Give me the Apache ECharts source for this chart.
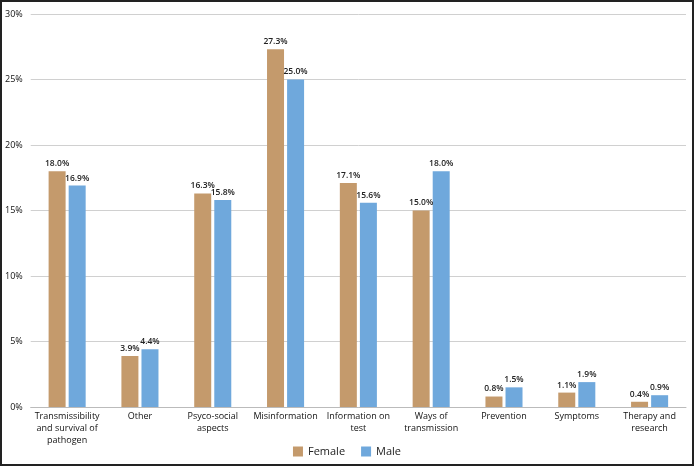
<!DOCTYPE html>
<html><head><meta charset="utf-8">
<script src="https://cdn.jsdelivr.net/npm/echarts@6/dist/echarts.min.js"></script>
<style>
html,body{margin:0;padding:0;background:#fff;}
#wrap{width:694px;height:466px;box-sizing:border-box;border:2px solid #222;}
#c{width:690px;height:462px;}
</style></head>
<body><div id="wrap"><div id="c"></div></div>
<script>
const categories = ["Transmissibility\nand survival of\npathogen","Other","Psyco-social\naspects","Misinformation","Information on\ntest","Ways of\ntransmission","Prevention","Symptoms","Therapy and\nresearch"];
const female = [18.0,3.9,16.3,27.3,17.1,15.0,0.8,1.1,0.4];
const male = [16.9,4.4,15.8,25.0,15.6,18.0,1.5,1.9,0.9];
const yTicks = [0,5,10,15,20,25,30];

const font = '"Open Sans", "Noto Sans", sans-serif';
const chart = echarts.init(document.getElementById('c'));
const lbl = {show:true,position:'top',distance:3,fontSize:8.5,fontWeight:600,color:'#222',fontFamily:font,formatter:p=>p.value.toFixed(1)+'%'};
chart.setOption({
  animation:false,
  textStyle:{fontFamily:font},
  grid:{left:28,right:6,top:12,bottom:57},
  legend:{bottom:2,left:'center',itemWidth:10,itemHeight:10,itemGap:16,icon:'rect',textStyle:{fontSize:11,color:'#222',fontFamily:font},data:['Female','Male']},
  xAxis:{type:'category',data:categories,axisTick:{show:false},axisLine:{lineStyle:{color:'#bbb'}},
    axisLabel:{interval:0,fontSize:9,color:'#111',lineHeight:12,margin:3,fontFamily:font}},
  yAxis:{type:'value',min:0,max:30,interval:5,axisLine:{show:false},axisTick:{show:false},
    splitLine:{lineStyle:{color:'#d0d0d0'}},
    axisLabel:{fontSize:9,color:'#111',margin:8,fontFamily:font,formatter:v=>yTicks.includes(v)?v+'%':''}},
  series:[
    {name:'Female',type:'bar',data:female,barWidth:17,barGap:'18%',itemStyle:{color:'#C49A6C'},label:lbl},
    {name:'Male',type:'bar',data:male,barWidth:17,itemStyle:{color:'#6FA8DC'},label:lbl}
  ]
});
</script></body></html>
